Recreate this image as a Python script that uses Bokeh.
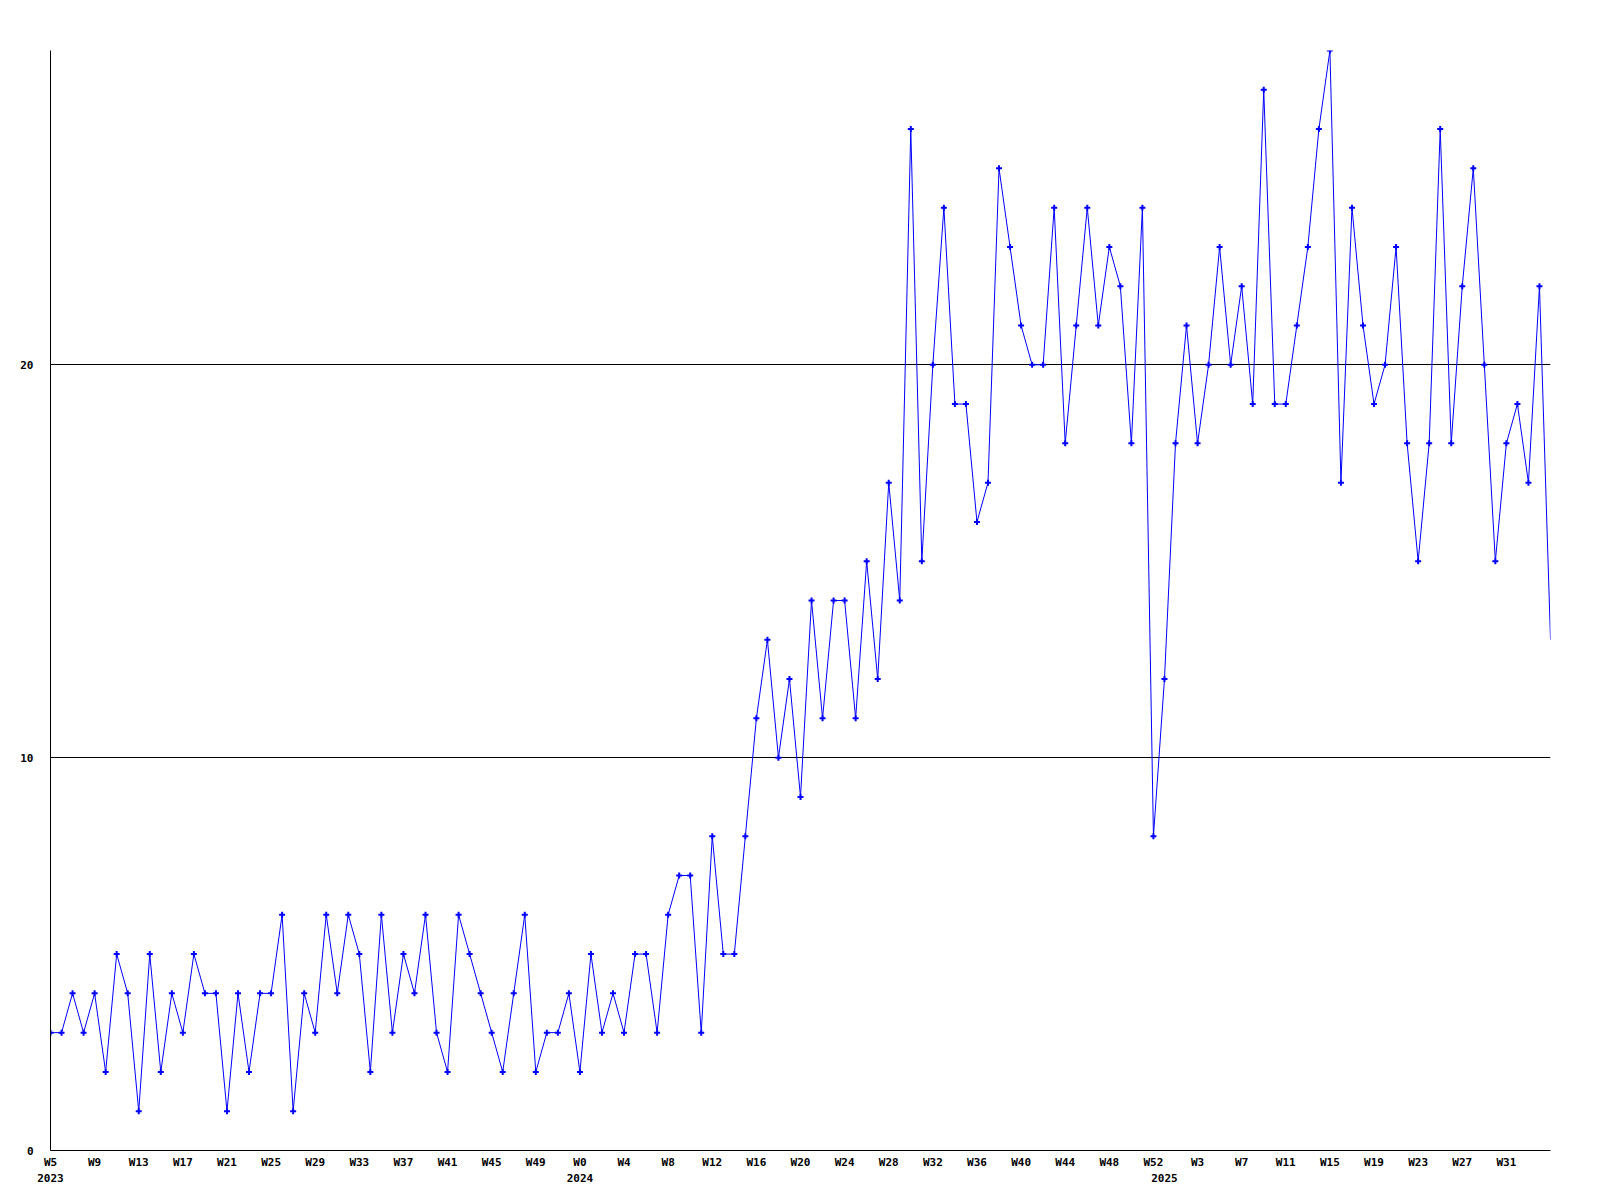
from bokeh.plotting import figure
from bokeh.models import (ColumnDataSource, Range1d, FixedTicker, LinearAxis,
                          SingleIntervalTicker)
from bokeh.embed import file_html
from bokeh.resources import INLINE

# (year, first week shown, last week shown)
year_spans = [(2023, 5, 52), (2024, 0, 52), (2025, 0, 35)]

values = [
    3, 3, 4, 3, 4, 2, 5, 4, 1, 5, 2, 4, 3, 5, 4, 4, 1, 4, 2, 4, 4, 6, 1, 4, 3,
    6, 4, 6, 5, 2, 6, 3, 5, 4, 6, 3, 2,
    6, 5, 4, 3, 2, 4, 6, 2, 3, 3, 4, 2, 5, 3, 4, 3, 5, 5, 3, 6, 7, 7, 3, 8, 5,
    5, 8,
    11, 13, 10, 12, 9, 14, 11, 14, 14, 11, 15, 12, 17, 14, 26, 15, 20, 24, 19,
    19, 16, 17, 25, 23, 21,
    20, 20, 24, 18, 21, 24, 21, 23, 22, 18, 24, 8, 12, 18, 21, 18, 20, 23, 20,
    22, 19,
    27, 19, 19, 21, 23, 26, 28, 17, 24, 21, 19, 20, 23, 18, 15, 18, 26, 18, 22,
    25, 20, 15, 18, 19, 17, 22, 13,
]

week_labels = []
year_of_point = []
for yr, w0, w1 in year_spans:
    for w in range(w0, w1 + 1):
        week_labels.append(f"W{w}")
        year_of_point.append(yr)

n = len(values)
xs = list(range(n))

FONT = "DejaVu Sans Mono"
BLUE = "#0000ff"

p = figure(frame_width=1500, frame_height=1100,
           x_range=Range1d(0, n - 1), y_range=Range1d(0, max(values)),
           output_backend="svg", toolbar_location=None,
           min_border_left=50, min_border_top=50, min_border_right=40,
           min_border_bottom=4)
p.outline_line_color = None
p.background_fill_color = "white"
p.border_fill_color = "white"

src = ColumnDataSource(dict(x=xs, y=values))
p.line("x", "y", source=src, line_color=BLUE, line_width=1)
msrc = ColumnDataSource(dict(x=xs[:-1], y=values[:-1]))
p.scatter("x", "y", source=msrc, marker="cross", size=6, line_width=2,
          line_color=BLUE)

# grid
p.xgrid.visible = False
p.ygrid.ticker = SingleIntervalTicker(interval=10)
p.ygrid.grid_line_color = "black"
p.ygrid.grid_line_alpha = 1.0
p.ygrid.grid_line_width = 1

# y axis
ya = p.yaxis[0]
ya.ticker = SingleIntervalTicker(interval=10)
ya.major_tick_out = 0
ya.major_tick_in = 0
ya.minor_tick_line_color = None
ya.axis_line_color = "black"
ya.major_label_standoff = 13
ya.major_label_text_font = FONT
ya.major_label_text_font_style = "bold"
ya.major_label_text_font_size = "11px"
ya.major_label_text_color = "black"

# week axis
tick_idx = [i for i in xs if i % 4 == 0 and i < n - 1]
xa = p.xaxis[0]
xa.ticker = FixedTicker(ticks=tick_idx)
xa.major_label_overrides = {i: week_labels[i] for i in tick_idx}
xa.major_tick_out = 0
xa.major_tick_in = 0
xa.minor_tick_line_color = None
xa.major_tick_line_color = None
xa.axis_line_color = "black"
xa.major_label_standoff = 5
xa.major_label_text_font = FONT
xa.major_label_text_font_style = "bold"
xa.major_label_text_font_size = "11px"
xa.major_label_text_color = "black"

# year axis
year_starts = [i for i in xs if i == 0 or year_of_point[i] != year_of_point[i - 1]]
yax = LinearAxis(ticker=FixedTicker(ticks=year_starts),
                 major_label_overrides={i: str(year_of_point[i]) for i in year_starts})
yax.axis_line_color = None
yax.major_tick_line_color = None
yax.minor_tick_line_color = None
yax.major_tick_out = 0
yax.major_tick_in = 0
yax.major_label_standoff = 2
yax.major_label_text_font = FONT
yax.major_label_text_font_style = "bold"
yax.major_label_text_font_size = "11px"
yax.major_label_text_color = "black"
p.add_layout(yax, "below")

open("out.html", "w").write(file_html(p, INLINE))
